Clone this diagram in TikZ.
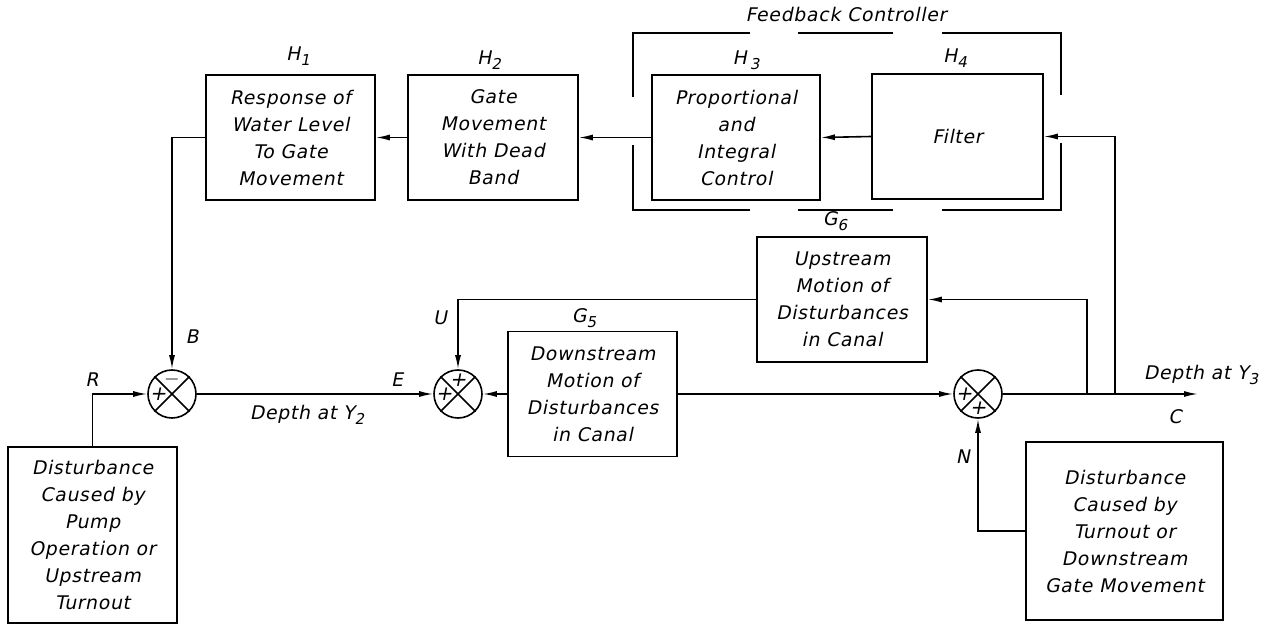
\documentclass[tikz,border=0pt]{standalone}
\usepackage{fontspec}
\setmainfont{DejaVu Sans}
\newfontfamily\lbl{DejaVu Sans}[FakeSlant=0.2,LetterSpace=4]
\usetikzlibrary{arrows.meta}
\newcommand\sbs[1]{\raisebox{-0.45ex}{\fontsize{7.5}{7.5}\selectfont #1}}
\tikzset{
  ln/.style={line width=0.8pt},
  blk/.style={draw, line width=0.8pt, align=center, inner sep=0pt,
    font=\lbl\fontsize{9.4}{13.5}\selectfont},
  sj/.style={draw, circle, line width=0.8pt, minimum size=24pt, inner sep=0pt},
  lab/.style={font=\lbl\fontsize{9.4}{13.5}\selectfont, inner sep=0pt},
  sgn/.style={font=\lbl\fontsize{10}{10}\selectfont, inner sep=0pt},
  arr/.style={-{Latex[length=7pt,width=3pt]}, line width=0.8pt},
}
\begin{document}
\begin{tikzpicture}[x=0.5pt,y=-0.5pt]
\useasboundingbox (0,0) rectangle (1275,626);

% blocks
\node[blk, minimum width=84.5pt, minimum height=62.5pt] (h1) at (290.5,137.5) {Response of\\Water Level\\To Gate\\Movement};
\node[blk, minimum width=85pt, minimum height=62.5pt] (h2) at (493,137.5) {Gate\\Movement\\With Dead\\Band};
\node[blk, minimum width=84pt, minimum height=62.5pt] (h3) at (736,137.5) {Proportional\\and\\Integral\\Control};
\node[blk, minimum width=85.5pt, minimum height=62.5pt] (h4) at (957.5,136.5) {Filter};
\node[blk, minimum width=85pt, minimum height=62.5pt] (g6) at (842,299.5) {Upstream\\Motion of\\Disturbances\\in Canal};
\node[blk, minimum width=84.5pt, minimum height=62.5pt] (g5) at (592.5,394) {Downstream\\Motion of\\Disturbances\\in Canal};
\node[blk, minimum width=84.5pt, minimum height=88pt] (d1) at (92.5,535) {Disturbance\\Caused by\\Pump\\Operation or\\Upstream\\Turnout};
\node[blk, minimum width=98.5pt, minimum height=89pt] (d2) at (1124.5,531) {Disturbance\\Caused by\\Turnout or\\Downstream\\Gate Movement};

% summing junctions
\node[sj] (j1) at (172,394) {};
\node[sj] (j2) at (458,394) {};
\node[sj] (j3) at (978,394) {};
\foreach \j in {j1,j2,j3}{
  \draw[ln] (\j.north west) -- (\j.south east);
  \draw[ln] (\j.north east) -- (\j.south west);
}
\node[sgn] (s1a) at ([xshift=-7pt]j1.center) {+};
\node[sgn] (s1b) at ([yshift=7.5pt]j1.center) {$-$};
\node[sgn] (s2a) at ([xshift=-7pt]j2.center) {+};
\node[sgn] (s2b) at ([yshift=7pt]j2.center) {+};
\node[sgn] (s3a) at ([xshift=-7pt]j3.center) {+};
\node[sgn] (s3b) at ([yshift=-7pt]j3.center) {+};

% tap points
\coordinate (t1) at (1087,394);
\coordinate (t2) at (1115,394);
\coordinate (out) at (1198,394);

% connectors
\draw[arr] (h2.west) -- (h1.east);
\draw[arr] (h3.west) -- (h2.east);
\draw[arr] (h4.west) -- (h3.east);
\draw[arr] (h1.west) -| (j1.north);
\draw[arr] (d1.north) |- (j1.west);
\draw[arr] (j1.east) -- (j2.west);
\draw[arr] (g5.west) -- (j2.east);
\draw[arr] (g6.west) -| (j2.north);
\draw[arr] (g5.east) -- (j3.west);
\draw[arr] (j3.east) -- (out);
\draw[arr] (t1) |- (g6.east);
\draw[arr] (t2) |- (h4.east);
\draw[arr] (d2.west) -| (j3.south);

% feedback controller bracket
\draw[ln] (633,97) -- (633,33) -- (750,33);
\draw[ln] (798,33) -- (893,33);
\draw[ln] (942,33) -- (1061,33) -- (1061,95);
\draw[ln] (633,145) -- (633,210) -- (750,210);
\draw[ln] (798,210) -- (893,210);
\draw[ln] (942,210) -- (1061,210) -- (1061,143);

% labels
\node[lab] (lh1) at (298,56) {H\sbs{1}};
\node[lab] (lh2) at (489,60) {H\sbs{2}};
\node[lab] (lh3) at (746,60) {H\,\sbs{3}};
\node[lab] (lh4) at (955,58) {H\sbs{4}};
\node[lab] (lg6) at (835,221) {G\sbs{6}};
\node[lab] (lg5) at (584,318) {G\sbs{5}};
\node[lab] (lfc) at (846,14) {Feedback Controller};
\node[lab] (lb) at (192,337) {B};
\node[lab] (lr) at (92,380) {R};
\node[lab] (le) at (397,380) {E};
\node[lab] (lu) at (440,318) {U};
\node[lab] (lnn) at (963,457) {N};
\node[lab] (lc) at (1175,417) {C};
\node[lab] (ly2) at (307,415) {Depth at Y\sbs{2}};
\node[lab] (ly3) at (1201,375) {Depth at Y\sbs{3}};
\end{tikzpicture}
\end{document}
